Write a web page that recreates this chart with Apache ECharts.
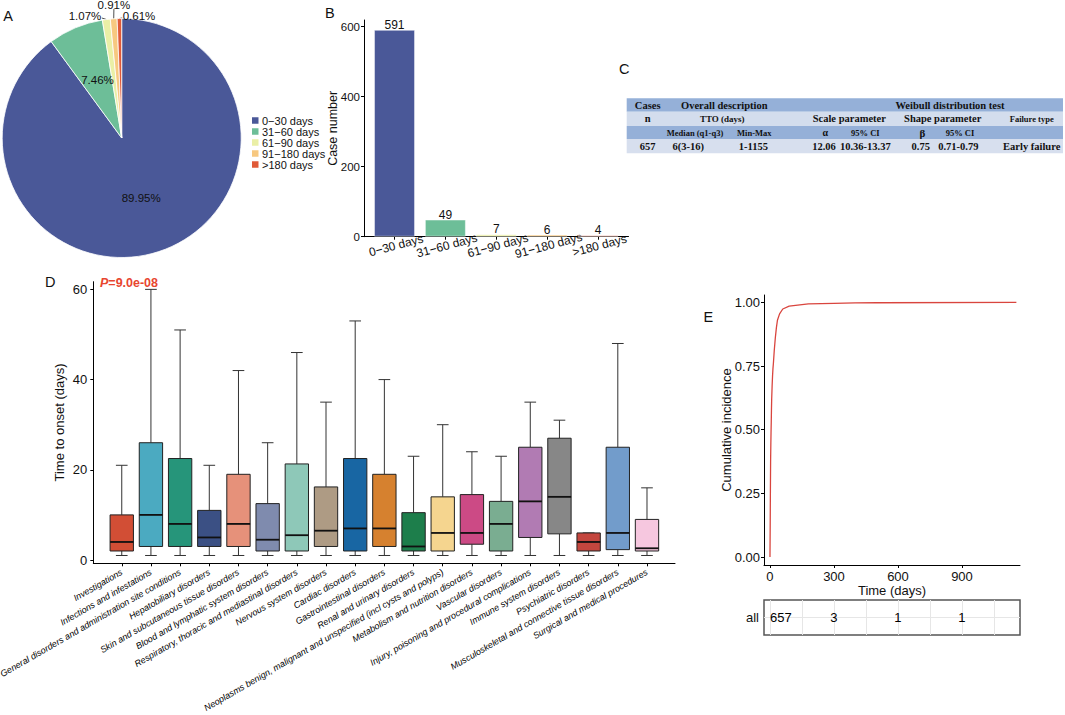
<!DOCTYPE html>
<html><head><meta charset="utf-8">
<script src="https://cdn.jsdelivr.net/npm/echarts@6/dist/echarts.min.js"></script>
<style>html,body{margin:0;padding:0;background:#fff}#c{width:1065px;height:715px}</style>
</head><body><div id="c"></div>
<script>
// ---------- data ----------
var intervalCats = ['0\u221230 days', '31\u221260 days', '61\u221290 days', '91\u2212180 days', '>180 days'];
var caseCounts = [591, 49, 7, 6, 4];
var piePercents = [89.95, 7.46, 1.07, 0.91, 0.61];
var intervalColors = ['#4A5898', '#6DBE98', '#EAEFA6', '#F7C880', '#E05A38'];
var barTicks = [0, 200, 400, 600];

var socCats = ['Investigations', 'Infections and infestations', 'General disorders and administration site conditions',
  'Hepatobiliary disorders', 'Skin and subcutaneous tissue disorders', 'Blood and lymphatic system disorders',
  'Respiratory, thoracic and mediastinal disorders', 'Nervous system disorders', 'Cardiac disorders',
  'Gastrointestinal disorders', 'Renal and urinary disorders',
  'Neoplasms benign, malignant and unspecified (incl cysts and polyps)', 'Metabolism and nutrition disorders',
  'Vascular disorders', 'Injury, poisoning and procedural complications', 'Immune system disorders',
  'Psychiatric disorders', 'Musculoskeletal and connective tissue disorders', 'Surgical and medical procedures'];
var boxLow  = [1, 1, 1, 1, 1, 1, 1, 1, 1, 1, 1, 1, 1, 1, 1, 1, 1, 1, 1];
var boxQ1   = [2, 3, 3, 3, 3, 2, 2, 3, 2, 3, 2, 2, 3.5, 2, 5, 5.8, 2, 2.3, 2];
var boxMed  = [4, 10, 8, 5, 8, 4.5, 5.5, 6.5, 7, 7, 3, 6, 6, 8, 13, 14, 4, 6, 2.6];
var boxQ3   = [10, 26, 22.5, 11, 19, 12.5, 21.3, 16.2, 22.5, 19, 10.5, 14, 14.5, 13, 25, 27, 6, 25, 9];
var boxHigh = [21, 60, 51, 21, 42, 26, 46, 35, 53, 40, 23, 30, 24, 23, 35, 31, 6, 48, 16];
var boxColors = ['#D24E35', '#4BAAC1', '#26957A', '#3B5084', '#E6917A', '#7F8BAE', '#8EC8B8', '#AE9B84',
  '#1866A3', '#D6812F', '#1D7E4B', '#F5D58F', '#CC4A85', '#7AAD91', '#B17BB3', '#878787', '#C4463E',
  '#729CCB', '#F6C7DF'];
var onsetTicks = [0, 20, 40, 60];
var pValueText = '=9.0e-08';

var ciTime  = [0, 1, 2, 3, 4, 5, 6, 7, 8, 10, 12, 14, 16, 20, 25, 30, 35, 45, 60, 90, 120, 150, 180, 300, 400, 500, 1155];
var ciValue = [0, 0.12, 0.26, 0.38, 0.44, 0.49, 0.53, 0.58, 0.62, 0.67, 0.71, 0.74, 0.76, 0.81, 0.86, 0.90, 0.93,
  0.955, 0.974, 0.985, 0.988, 0.991, 0.994, 0.996, 0.998, 0.9985, 1.0];
var timeTicks = [0, 300, 600, 900];
var ciTicks = [0, 0.25, 0.5, 0.75, 1];
var riskTimes = [0, 300, 600, 900];
var riskCounts = [657, 3, 1, 1];
var riskGridTimes = [0, 150, 300, 450, 600, 750, 900, 1050];

var tableRows = [
  ['Cases', 'Overall description', 'Weibull distribution test'],
  ['n', 'TTO (days)', 'Scale parameter', 'Shape parameter', 'Failure type'],
  ['Median (q1-q3)', 'Min-Max', '\u03b1', '95% CI', '\u03b2', '95% CI'],
  ['657', '6(3-16)', '1-1155', '12.06', '10.36-13.37', '0.75', '0.71-0.79', 'Early failure']
];

// ---------- layout (positions / sizes / styles) ----------
var FONT = 'Liberation Sans, Arial, sans-serif';
var SERIF = 'Liberation Serif, Times New Roman, serif';
var TXT = '#111';
var tableLeft = 626.7, tableWidth = 436.3;
var tableRowTop = [98.3, 111.7, 126, 139];
var tableRowH = [13.4, 14.3, 13, 14.3];
var tableRowFill = ['#95B0D8', '#D3DDED', '#95B0D8', '#D7DFEE'];
var tableColX = [
  [647.7, 724.3, 950],
  [647.7, 722.3, 849.3, 942.7, 1031.7],
  [695, 754.3, 825.3, 865.3, 922.3, 960],
  [647.7, 688.3, 753.3, 824, 865.3, 920.7, 958.3, 1031.7]
];
var tableFont = [
  [10.5, 10.5, 10.5],
  [10.5, 9, 10.5, 10.5, 8.5],
  [8.5, 8.5, 10, 8.5, 11, 8.5],
  [10.5, 10.5, 10.5, 10.5, 10.5, 10.5, 10.5, 10.5]
];
// offsets of the small outer pie labels from the slice edge: [dx, dy, side of leader]
var pieOuterLabelLayout = {2: [-21.3, -3.5, 'r'], 3: [0.2, -13.8, 'b'], 4: [19.6, -2.5, 'l']};

// ---------- build ----------
var graphics = [];
tableRows.forEach(function (row, r) {
  graphics.push({type: 'rect', silent: true,
    shape: {x: tableLeft, y: tableRowTop[r], width: tableWidth, height: tableRowH[r]},
    style: {fill: tableRowFill[r]}});
  row.forEach(function (t, c) {
    graphics.push({type: 'text', silent: true, x: tableColX[r][c], y: tableRowTop[r] + tableRowH[r] / 2,
      style: {text: t, fill: TXT, font: 'bold ' + tableFont[r][c] + 'px ' + SERIF, align: 'center', verticalAlign: 'middle'}});
  });
});
var panelLetters = [['A', 3.3, 15.5], ['B', 325, 13.3], ['C', 619, 69.3], ['D', 45, 282.3], ['E', 703.5, 316.5]];
panelLetters.forEach(function (l) {
  graphics.push({type: 'text', silent: true, x: l[1], y: l[2],
    style: {text: l[0], fill: TXT, font: '14.5px ' + FONT, align: 'left', verticalAlign: 'middle'}});
});
graphics.push({type: 'text', silent: true, x: 100, y: 282.7,
  style: {text: '{i|P}{b|' + pValueText + '}', verticalAlign: 'middle', align: 'left',
    rich: {i: {fontStyle: 'italic', fontWeight: 'bold', fontSize: 12.5, fill: '#E8462F', color: '#E8462F', fontFamily: FONT},
           b: {fontWeight: 'bold', fontSize: 12.5, fill: '#E8462F', color: '#E8462F', fontFamily: FONT}}}});

var pieData = intervalCats.map(function (n, i) {
  var d = {name: n, value: caseCounts[i], pct: piePercents[i], itemStyle: {color: intervalColors[i]}};
  if (pieOuterLabelLayout[i]) {
    d.label = {position: 'outside', color: TXT, fontSize: 11.5};
    d.labelLine = {show: true, length: 3, length2: 2, lineStyle: {color: '#222', width: 0.8}};
  }
  return d;
});
var barData = caseCounts.map(function (v, i) {
  return {value: [i + 1, v], itemStyle: {color: intervalColors[i]}};
});
var boxRows = socCats.map(function (c, i) {
  return [i + 1, boxLow[i], boxQ1[i], boxMed[i], boxQ3[i], boxHigh[i]];
});
var ciData = ciTime.map(function (t, i) { return [t, ciValue[i]]; });
var riskData = riskTimes.map(function (t, i) {
  var d = {value: [t, 0, riskCounts[i]]};
  if (i === 0) d.label = {position: 'right', distance: 0};
  return d;
});
var riskLines = riskGridTimes.map(function (t) { return {xAxis: t}; });
riskLines.push({yAxis: 0});

function axisBase() {
  return {
    axisLine: {show: true, onZero: false, lineStyle: {color: '#000', width: 1}},
    axisTick: {show: true, length: 3, lineStyle: {color: '#000', width: 1}},
    splitLine: {show: false},
    nameMoveOverlap: false
  };
}
function merge(a, b) { for (var k in b) a[k] = b[k]; return a; }

var chart = echarts.init(document.getElementById('c'), null, {renderer: 'svg', width: 1065, height: 715});
var option = {
  animation: false,
  backgroundColor: '#fff',
  textStyle: {fontFamily: FONT},
  graphic: graphics,
  legend: {
    orient: 'vertical', left: 250, top: 115, padding: 0, itemWidth: 8.5, itemHeight: 8.5, itemGap: 0,
    icon: 'rect', data: intervalCats, selectedMode: false,
    textStyle: {fontSize: 11, color: TXT, lineHeight: 11, fontFamily: FONT, padding: [0, 0, 0, -2.5]}
  },
  grid: [
    {left: 364, top: 20, width: 264.5, height: 216.7, outerBoundsMode: 'none', containLabel: false},
    {left: 93.3, top: 281.7, width: 581.7, height: 281.6, outerBoundsMode: 'none', containLabel: false},
    {left: 764, top: 295, width: 256, height: 270, outerBoundsMode: 'none', containLabel: false},
    {left: 764, top: 600, width: 256, height: 35, outerBoundsMode: 'none', containLabel: false,
      show: true, borderColor: '#555', borderWidth: 1.5, backgroundColor: 'transparent'}
  ],
  xAxis: [
    merge(axisBase(), {gridIndex: 0, type: 'value', min: 0.4, max: 5.6,
      axisTick: {show: true, length: 3, customValues: [1, 2, 3, 4, 5], lineStyle: {color: '#000'}},
      axisLabel: {customValues: [1, 2, 3, 4, 5], rotate: 15, align: 'center', verticalAlign: 'top', margin: 3,
        fontSize: 12, color: TXT, formatter: function (v) { return intervalCats[Math.round(v) - 1] || ''; }}}),
    merge(axisBase(), {gridIndex: 1, type: 'value', min: 0.025, max: 19.96,
      axisTick: {show: true, length: 3, customValues: socCats.map(function (c, i) { return i + 1; }), lineStyle: {color: '#000'}},
      axisLabel: {customValues: socCats.map(function (c, i) { return i + 1; }), rotate: 30, margin: 8,
        fontSize: 9, fontStyle: 'italic', color: '#000',
        formatter: function (v) { return socCats[Math.round(v) - 1] || ''; }}}),
    merge(axisBase(), {gridIndex: 2, type: 'value', min: -28, max: 1172,
      name: 'Time (days)', nameLocation: 'middle', nameGap: 18.5, nameTextStyle: {fontSize: 13, color: TXT},
      axisTick: {show: true, length: 3, customValues: timeTicks, lineStyle: {color: '#000'}},
      axisLabel: {customValues: timeTicks, fontSize: 13, color: TXT, margin: 5}}),
    {gridIndex: 3, type: 'value', min: -28, max: 1172, show: false}
  ],
  yAxis: [
    merge(axisBase(), {gridIndex: 0, type: 'value', min: 0, max: 619,
      name: 'Case number', nameLocation: 'middle', nameGap: 24.5, nameTextStyle: {fontSize: 12.5, color: TXT},
      axisTick: {show: true, length: 3, customValues: barTicks, lineStyle: {color: '#000'}},
      axisLabel: {customValues: barTicks, fontSize: 11.5, color: TXT, margin: 4}}),
    merge(axisBase(), {gridIndex: 1, type: 'value', min: -0.73, max: 61.7,
      name: 'Time to onset (days)', nameLocation: 'middle', nameGap: 27.5, nameTextStyle: {fontSize: 13, color: TXT},
      axisTick: {show: true, length: 3, customValues: onsetTicks, lineStyle: {color: '#000'}},
      axisLabel: {customValues: onsetTicks, fontSize: 13, color: TXT, margin: 6}}),
    merge(axisBase(), {gridIndex: 2, type: 'value', min: -0.031, max: 1.029,
      name: 'Cumulative incidence', nameLocation: 'middle', nameGap: 31.5, nameTextStyle: {fontSize: 13, color: TXT},
      axisTick: {show: true, length: 3, customValues: ciTicks, lineStyle: {color: '#000'}},
      axisLabel: {customValues: ciTicks, fontSize: 13, color: TXT, margin: 4,
        formatter: function (v) { return v.toFixed(2); }}}),
    {gridIndex: 3, type: 'category', data: ['all'], nameMoveOverlap: false,
      axisLine: {show: false}, splitLine: {show: false},
      axisTick: {show: true, length: 3, alignWithLabel: true, lineStyle: {color: '#333'}},
      axisLabel: {fontSize: 13, color: TXT, margin: 5}}
  ],
  series: [
    {
      type: 'pie', center: [121.7, 138], radius: 119.5, startAngle: 90, clockwise: true,
      avoidLabelOverlap: false, silent: true,
      itemStyle: {borderColor: '#fff', borderWidth: 0.8},
      label: {show: true, position: 'inside', fontSize: 11.5, color: TXT, fontFamily: FONT,
        formatter: function (p) { return p.data.pct.toFixed(2) + '%'; }},
      labelLine: {show: false},
      labelLayout: function (p) {
        var o = pieOuterLabelLayout[p.dataIndex];
        if (!o || !p.labelLinePoints) return {};
        var e = p.labelLinePoints[0];
        var cx = e[0] + o[0], cy = e[1] + o[1];
        var w = p.labelRect.width, h = p.labelRect.height;
        var end = o[2] === 'r' ? [cx + w / 2 + 0.5, cy + 2] : (o[2] === 'b' ? [cx, cy + h / 2 - 2] : [cx - w / 2 - 0.5, cy + 2]);
        return {x: cx, y: cy, align: 'center', verticalAlign: 'middle', labelLinePoints: [e, end, end]};
      },
      data: pieData
    },
    {
      type: 'bar', xAxisIndex: 0, yAxisIndex: 0, barWidth: 41, silent: true,
      itemStyle: {borderColor: 'rgba(255,255,255,0.45)', borderWidth: 1},
      label: {show: true, position: 'top', distance: -1, fontSize: 12, color: TXT,
        formatter: function (p) { return p.value[1]; }},
      data: barData
    },
    {
      type: 'custom', xAxisIndex: 1, yAxisIndex: 1, silent: true,
      encode: {x: 0, y: [1, 2, 3, 4, 5]},
      data: boxRows,
      renderItem: function (params, api) {
        var x = api.value(0);
        var unit = api.size([1, 0])[0];
        var bw = unit * 0.8, cw = unit * 0.4;
        var pLo = api.coord([x, api.value(1)]), pQ1 = api.coord([x, api.value(2)]),
            pMed = api.coord([x, api.value(3)]), pQ3 = api.coord([x, api.value(4)]),
            pHi = api.coord([x, api.value(5)]);
        var cx = pLo[0];
        var ws = {stroke: '#333', lineWidth: 1};
        return {type: 'group', children: [
          {type: 'line', shape: {x1: cx, y1: pHi[1], x2: cx, y2: pQ3[1]}, style: ws},
          {type: 'line', shape: {x1: cx, y1: pQ1[1], x2: cx, y2: pLo[1]}, style: ws},
          {type: 'line', shape: {x1: cx - cw / 2, y1: pHi[1], x2: cx + cw / 2, y2: pHi[1]}, style: ws},
          {type: 'line', shape: {x1: cx - cw / 2, y1: pLo[1], x2: cx + cw / 2, y2: pLo[1]}, style: ws},
          {type: 'rect', shape: {x: cx - bw / 2, y: pQ3[1], width: bw, height: pQ1[1] - pQ3[1]},
            style: {fill: boxColors[params.dataIndex], stroke: '#222', lineWidth: 1}},
          {type: 'line', shape: {x1: cx - bw / 2, y1: pMed[1], x2: cx + bw / 2, y2: pMed[1]},
            style: {stroke: '#111', lineWidth: 1.8}}
        ]};
      }
    },
    {
      type: 'line', xAxisIndex: 2, yAxisIndex: 2, showSymbol: false, silent: true,
      lineStyle: {color: '#D9453E', width: 1.3}, itemStyle: {color: '#D9453E'},
      data: ciData
    },
    {
      type: 'scatter', xAxisIndex: 3, yAxisIndex: 3, silent: true, symbolSize: 0.1, z: 5,
      itemStyle: {color: '#000', opacity: 0},
      label: {show: true, position: 'inside', fontSize: 13, color: '#000', opacity: 1, textBorderWidth: 0,
        formatter: function (p) { return p.value[2]; }},
      markLine: {silent: true, symbol: 'none', label: {show: false}, z: 1,
        lineStyle: {color: '#E6E6E6', width: 1, type: 'solid'}, data: riskLines},
      data: riskData
    }
  ]
};
chart.setOption(option);
</script>
</body></html>
